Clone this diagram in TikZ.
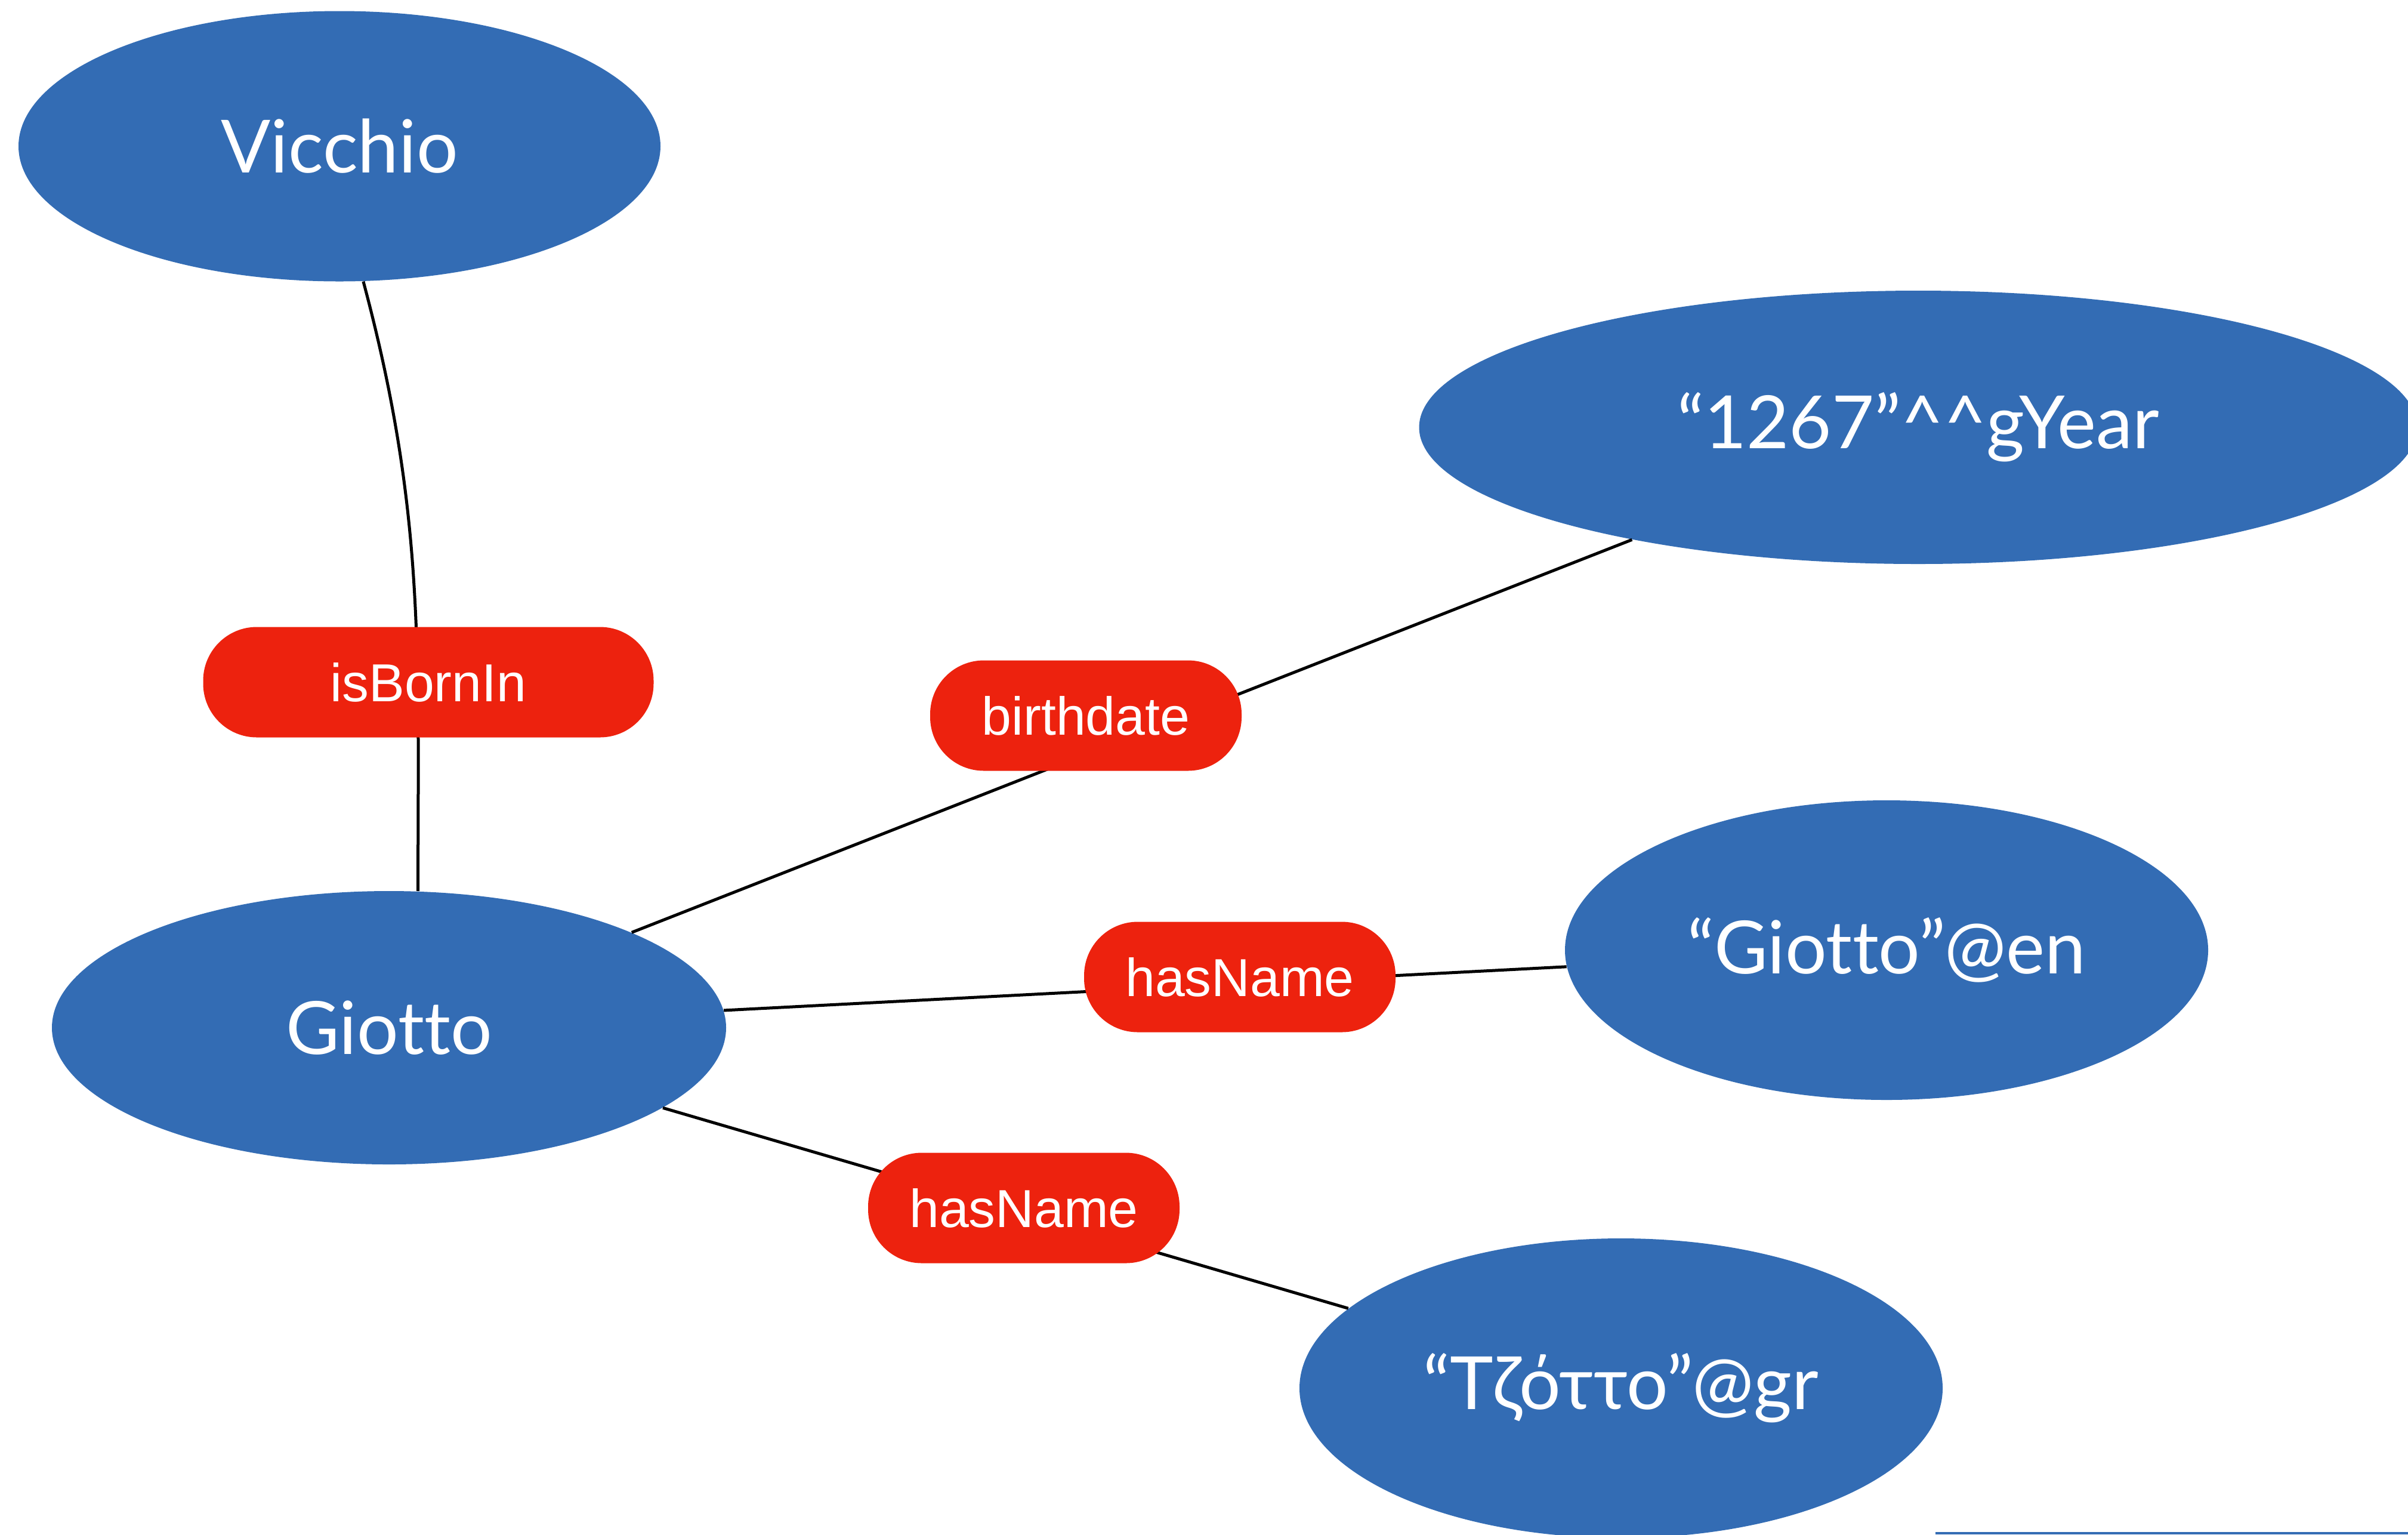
\documentclass[tikz,border=0pt]{standalone}
\usepackage{fontspec}
\setmainfont{Lato}[Ligatures={NoCommon}]
\newfontfamily\pillfont{Liberation Sans}
\usetikzlibrary{shapes.geometric}
\definecolor{rdfblue}{RGB}{51,108,180}
\definecolor{rdfred}{RGB}{237,34,14}
\tikzset{
  blob/.style={ellipse, fill=rdfblue, text=white, inner xsep=-2cm, inner ysep=0pt,
    font=\fontsize{35}{41}\selectfont},
  prop/.style={rectangle, rounded corners=0.9cm, fill=rdfred, text=white,
    minimum height=1.85cm, minimum width=5.22cm, font={\pillfont\fontsize{25.5}{30}\selectfont}},
  link/.style={line width=0.05cm, black},
}

\begin{document}
\begin{tikzpicture}
	%%%%% START %%%%%
	\useasboundingbox (0,0) rectangle (40.36,-25.71);

	\node[blob, minimum width=10.76cm, minimum height=4.53cm] (vicchio) at (5.69,-2.45) {Vicchio};
	\node[blob, minimum width=16.73cm, minimum height=4.58cm] (year) at (32.15,-7.16) {“1267”\textasciicircum\textasciicircum gYear};
	\node[blob, minimum width=11.30cm, minimum height=4.58cm] (giotto) at (6.52,-17.22) {Giotto};
	\node[blob, minimum width=10.78cm, minimum height=5.02cm] (giottoen) at (31.62,-15.92) {“Giotto”@en};
	\node[blob, minimum width=10.78cm, minimum height=5.02cm] (giottogr) at (27.17,-23.26) {“Τζόττο”@gr};

	\draw[link] (vicchio.-80) to[out=-75, in=90] (giotto.78);
	\draw[link] (giotto) -- (year);
	\draw[link] (giotto) -- (giottoen);
	\draw[link] (giotto) -- (giottogr);

	\node[prop, minimum width=7.55cm] (isbornin) at (7.18,-11.43) {isBornIn};
	\node[prop] (birthdate) at (18.20,-11.99) {birthdate};
	\node[prop] (hasnameen) at (20.78,-16.37) {hasName};
	\node[prop] (hasnamegr) at (17.16,-20.24) {hasName};

	\fill[rdfblue] (32.44,-25.67) rectangle (40.36,-25.71);
	%%%%% END %%%%%
\end{tikzpicture}
\end{document}
